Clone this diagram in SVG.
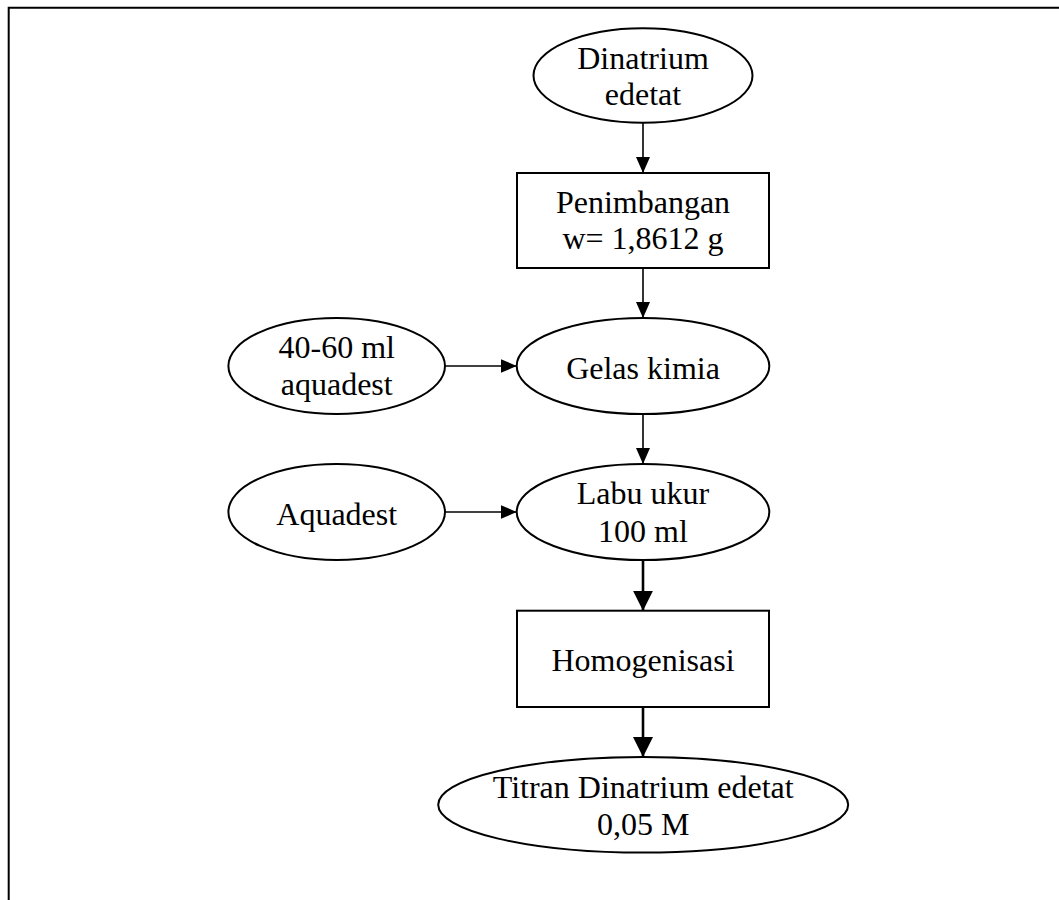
<svg xmlns="http://www.w3.org/2000/svg" width="1059" height="900" viewBox="0 0 1059 900">
  <style>
    .shape { fill: #ffffff; stroke: #000000; stroke-width: 2; }
    .label { font-family: "Liberation Serif", "Times New Roman", serif; font-size: 32px; fill: #000000; text-anchor: middle; }
    .link { fill: none; stroke: #000000; stroke-width: 1.6; }
    .link-bold { fill: none; stroke: #000000; stroke-width: 2.6; }
    .frame { fill: none; stroke: #000000; stroke-width: 2; }
  </style>
  <defs>
    <marker id="head" markerUnits="userSpaceOnUse" markerWidth="17" markerHeight="15" refX="16" refY="7" orient="auto">
      <path d="M0,0 L16,7 L0,14 z" fill="#000000"/>
    </marker>
    <marker id="head-bold" markerUnits="userSpaceOnUse" markerWidth="21" markerHeight="21" refX="20" refY="10" orient="auto">
      <path d="M0,0 L20,10 L0,20 z" fill="#000000"/>
    </marker>
  </defs>

  <!-- page frame (top and left edges) -->
  <path class="frame" d="M8.7,900 L8.7,7.7 L1059,7.7"/>

  <!-- connectors -->
  <g id="connectors">
    <line class="link" x1="643" y1="123" x2="643" y2="173" marker-end="url(#head)"/>
    <line class="link" x1="643" y1="268" x2="643" y2="318" marker-end="url(#head)"/>
    <line class="link" x1="445" y1="366" x2="516.7" y2="366" marker-end="url(#head)"/>
    <line class="link" x1="643" y1="414" x2="643" y2="464" marker-end="url(#head)"/>
    <line class="link" x1="445" y1="512" x2="516.7" y2="512" marker-end="url(#head)"/>
    <line class="link-bold" x1="643" y1="560" x2="643" y2="610.7" marker-end="url(#head-bold)"/>
    <line class="link-bold" x1="643" y1="707" x2="643" y2="757" marker-end="url(#head-bold)"/>
  </g>

  <g id="dinatrium-edetat">
    <ellipse class="shape" cx="643" cy="75.5" rx="109.5" ry="47.3"/>
    <text class="label" x="643" y="69">Dinatrium</text>
    <text class="label" x="643" y="105">edetat</text>
  </g>

  <g id="penimbangan">
    <rect class="shape" x="517" y="173" width="252" height="95"/>
    <text class="label" x="643" y="213">Penimbangan</text>
    <text class="label" x="643" y="249">w= 1,8612 g</text>
  </g>

  <g id="aquadest-40-60">
    <ellipse class="shape" cx="336.7" cy="366" rx="108.3" ry="48"/>
    <text class="label" x="336.7" y="358">40-60 ml</text>
    <text class="label" x="336.7" y="394.5">aquadest</text>
  </g>

  <g id="gelas-kimia">
    <ellipse class="shape" cx="643" cy="366" rx="126.3" ry="48"/>
    <text class="label" x="643" y="378.5">Gelas kimia</text>
  </g>

  <g id="aquadest">
    <ellipse class="shape" cx="336.7" cy="512" rx="108.3" ry="48"/>
    <text class="label" x="336.7" y="524.5">Aquadest</text>
  </g>

  <g id="labu-ukur">
    <ellipse class="shape" cx="643" cy="512" rx="126.3" ry="48"/>
    <text class="label" x="643" y="504">Labu ukur</text>
    <text class="label" x="643" y="542">100 ml</text>
  </g>

  <g id="homogenisasi">
    <rect class="shape" x="517" y="610.7" width="252" height="96.3"/>
    <text class="label" x="643" y="670.5">Homogenisasi</text>
  </g>

  <g id="titran">
    <ellipse class="shape" cx="643.2" cy="804.8" rx="205" ry="47.8"/>
    <text class="label" x="643.2" y="798">Titran Dinatrium edetat</text>
    <text class="label" x="643.2" y="835">0,05 M</text>
  </g>
</svg>
